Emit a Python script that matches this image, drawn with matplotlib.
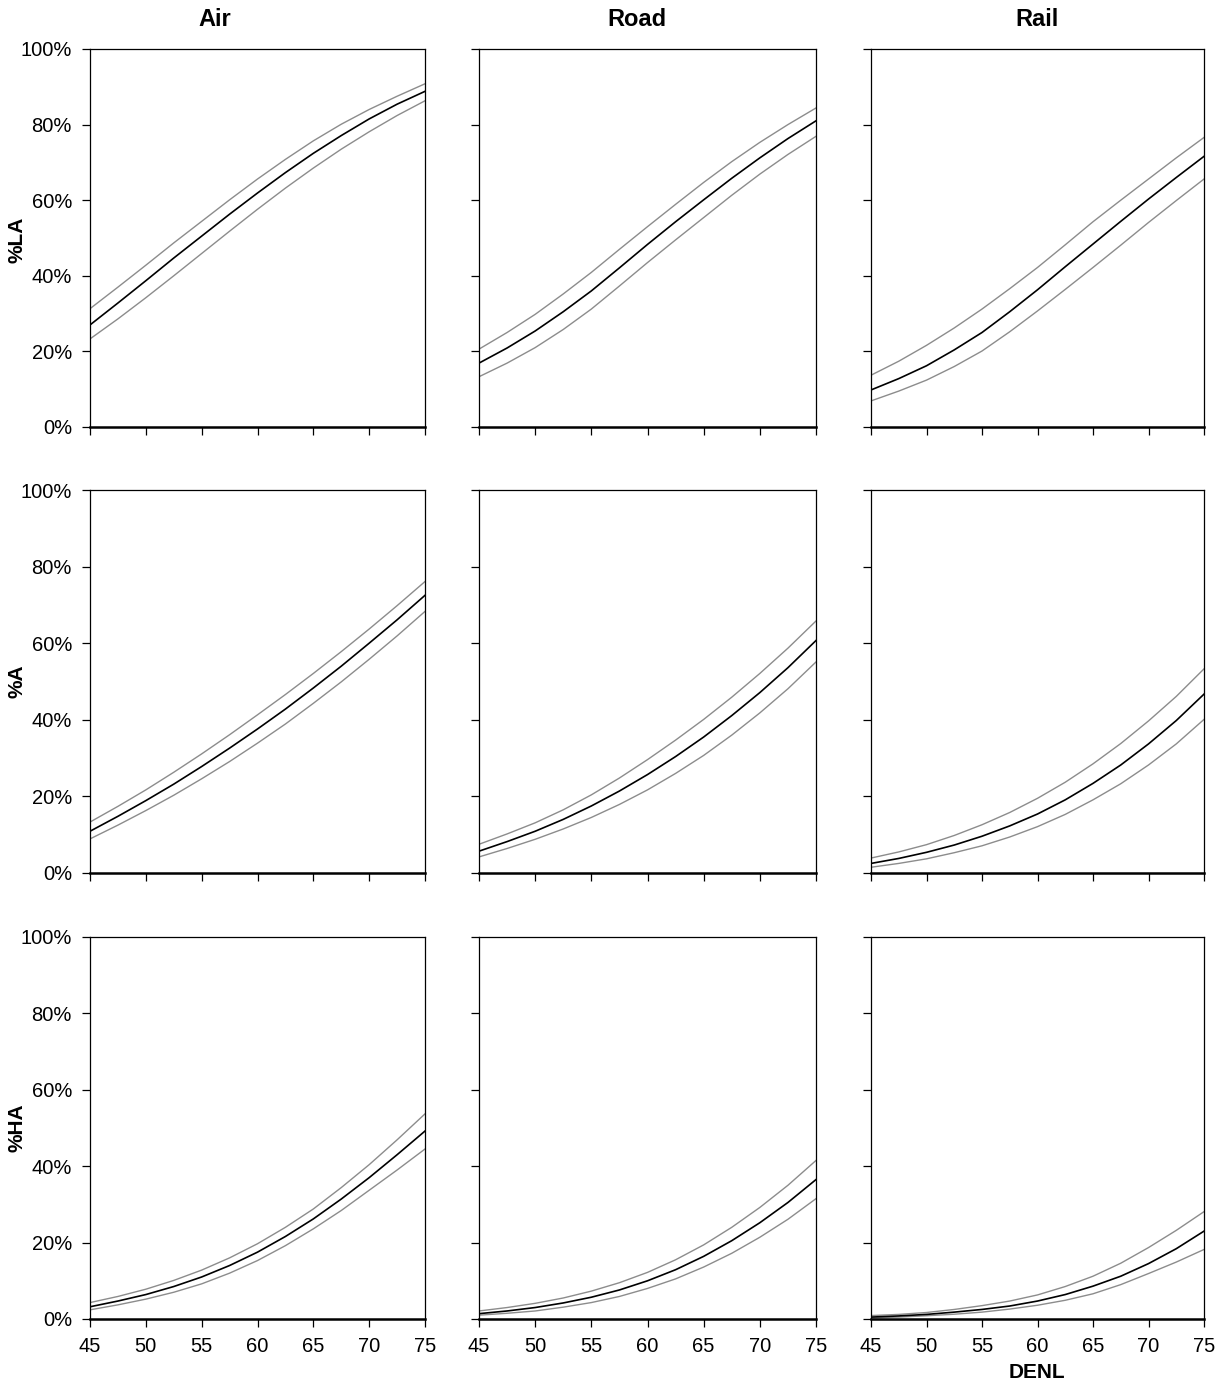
import matplotlib.pyplot as plt
from matplotlib.ticker import PercentFormatter

plt.rcParams["font.family"] = ["Liberation Sans", "DejaVu Sans"]

# DENL levels (dB) at which the curves are tabulated
denl = [45, 47.5, 50, 52.5, 55, 57.5, 60, 62.5, 65, 67.5, 70, 72.5, 75]

# percentage "at least a little annoyed"
air_la_mid = [27.0, 32.8, 38.7, 44.7, 50.5, 56.3, 61.9, 67.3, 72.4, 77.1, 81.5, 85.4, 88.8]
air_la_hi = [31.3, 37.0, 42.8, 48.7, 54.4, 60.1, 65.6, 70.8, 75.7, 80.1, 84.0, 87.5, 90.8]
air_la_lo = [23.3, 28.6, 34.2, 40.0, 45.9, 51.8, 57.6, 63.2, 68.5, 73.5, 78.1, 82.4, 86.3]

road_la_mid = [16.9, 20.9, 25.4, 30.5, 36.0, 42.1, 48.3, 54.3, 60.1, 65.8, 71.2, 76.3, 81.0]
road_la_hi = [20.6, 25.0, 29.8, 35.2, 40.9, 47.0, 53.0, 58.9, 64.7, 70.2, 75.3, 80.0, 84.4]
road_la_lo = [13.3, 16.9, 21.0, 25.8, 31.2, 37.3, 43.5, 49.5, 55.4, 61.3, 66.9, 72.1, 76.9]

rail_la_mid = [9.8, 12.8, 16.2, 20.4, 25.0, 30.5, 36.3, 42.4, 48.4, 54.4, 60.3, 66.0, 71.6]
rail_la_hi = [13.7, 17.4, 21.6, 26.2, 31.2, 36.6, 42.2, 48.2, 54.3, 60.0, 65.6, 71.2, 76.6]
rail_la_lo = [6.9, 9.5, 12.4, 16.0, 20.1, 25.2, 30.7, 36.4, 42.2, 48.1, 54.1, 59.9, 65.6]

# percentage annoyed
air_a_mid = [10.9, 14.8, 18.9, 23.2, 27.8, 32.6, 37.6, 42.8, 48.3, 54.0, 60.0, 66.1, 72.5]
air_a_hi = [13.3, 17.4, 21.7, 26.3, 31.1, 36.1, 41.3, 46.6, 52.1, 57.8, 63.7, 69.8, 76.1]
air_a_lo = [8.9, 12.5, 16.3, 20.3, 24.6, 29.1, 33.9, 38.9, 44.3, 49.9, 55.8, 61.9, 68.3]

road_a_mid = [5.7, 8.2, 10.9, 14.0, 17.5, 21.4, 25.7, 30.4, 35.5, 41.1, 47.1, 53.6, 60.7]
road_a_hi = [7.5, 10.2, 13.1, 16.5, 20.4, 24.8, 29.6, 34.7, 40.1, 45.9, 52.1, 58.7, 65.8]
road_a_lo = [4.2, 6.4, 8.8, 11.5, 14.5, 17.9, 21.7, 26.0, 30.7, 36.0, 41.8, 48.1, 55.1]

rail_a_mid = [2.5, 3.8, 5.4, 7.3, 9.6, 12.3, 15.4, 19.1, 23.4, 28.2, 33.7, 39.8, 46.7]
rail_a_hi = [3.9, 5.5, 7.4, 9.8, 12.6, 15.8, 19.5, 23.7, 28.5, 33.8, 39.7, 46.1, 53.3]
rail_a_lo = [1.5, 2.5, 3.7, 5.3, 7.1, 9.4, 12.1, 15.3, 19.1, 23.3, 28.2, 33.7, 40.1]

# percentage highly annoyed
air_ha_mid = [3.2, 4.7, 6.4, 8.5, 11.0, 14.0, 17.5, 21.6, 26.2, 31.4, 37.0, 43.0, 49.2]
air_ha_hi = [4.3, 5.9, 7.8, 10.1, 12.8, 16.0, 19.7, 24.0, 28.8, 34.4, 40.4, 46.9, 53.7]
air_ha_lo = [2.4, 3.7, 5.2, 7.0, 9.2, 12.0, 15.3, 19.2, 23.6, 28.4, 33.7, 39.0, 44.5]

road_ha_mid = [1.4, 2.1, 3.0, 4.2, 5.7, 7.6, 10.0, 12.9, 16.4, 20.5, 25.2, 30.5, 36.5]
road_ha_hi = [2.1, 3.0, 4.1, 5.5, 7.3, 9.5, 12.2, 15.5, 19.4, 24.0, 29.2, 35.0, 41.5]
road_ha_lo = [1.0, 1.5, 2.1, 3.1, 4.3, 5.9, 8.0, 10.5, 13.6, 17.2, 21.4, 26.1, 31.5]

rail_ha_mid = [0.5, 0.8, 1.2, 1.8, 2.5, 3.4, 4.7, 6.4, 8.6, 11.2, 14.5, 18.4, 23.0]
rail_ha_hi = [0.9, 1.2, 1.7, 2.5, 3.5, 4.7, 6.3, 8.5, 11.2, 14.6, 18.7, 23.2, 28.1]
rail_ha_lo = [0.25, 0.5, 0.85, 1.25, 1.8, 2.6, 3.6, 4.9, 6.6, 9.0, 11.9, 14.9, 18.2]

sources = ["Air", "Road", "Rail"]
measures = ["%LA", "%A", "%HA"]

curves = [
    [(air_la_lo, air_la_mid, air_la_hi), (road_la_lo, road_la_mid, road_la_hi), (rail_la_lo, rail_la_mid, rail_la_hi)],
    [(air_a_lo, air_a_mid, air_a_hi), (road_a_lo, road_a_mid, road_a_hi), (rail_a_lo, rail_a_mid, rail_a_hi)],
    [(air_ha_lo, air_ha_mid, air_ha_hi), (road_ha_lo, road_ha_mid, road_ha_hi), (rail_ha_lo, rail_ha_mid, rail_ha_hi)],
]

W, H = 1223, 1387
fig = plt.figure(figsize=(W / 100, H / 100), dpi=100)

# panel placement in pixels
col_left = [90, 479, 871]
col_width = [335, 337, 333]
row_bottom = [427, 873, 1319]
row_height = [378, 383, 382]

for r in range(3):
    for c in range(3):
        ax = fig.add_axes([col_left[c] / W, 1 - row_bottom[r] / H,
                           col_width[c] / W, row_height[r] / H])
        lo, mid, hi = curves[r][c]
        ax.plot(denl, hi, color="#8c8c8c", lw=1.0)
        ax.plot(denl, lo, color="#8c8c8c", lw=1.0)
        ax.plot(denl, mid, color="black", lw=1.2)

        ax.set_xlim(45, 75)
        ax.set_ylim(0, 100)
        ax.set_xticks(range(45, 76, 5))
        ax.set_yticks(range(0, 101, 20))
        ax.yaxis.set_major_formatter(PercentFormatter(xmax=100, decimals=0))
        ax.tick_params(direction="out", length=6, width=0.9, labelsize=14.5, pad=7)

        for side in ["left", "top", "right"]:
            ax.spines[side].set_linewidth(0.9)
        ax.spines["bottom"].set_linewidth(1.8)

        if c > 0:
            ax.tick_params(labelleft=False)
        if r < 2:
            ax.tick_params(labelbottom=False)

# column titles
for x, name in zip([215, 637, 1037], sources):
    fig.text(x / W, 1 - 20 / H, name, ha="center", va="center", fontsize=17, fontweight="bold")

# row labels
for y, name in zip([240, 681, 1128], measures):
    fig.text(17 / W, 1 - y / H, name, ha="center", va="center", rotation=90,
             fontsize=15, fontweight="bold")

fig.text(1037 / W, 1 - 1372 / H, "DENL", ha="center", va="center", fontsize=15, fontweight="bold")

fig.savefig("out.png", dpi=100)
